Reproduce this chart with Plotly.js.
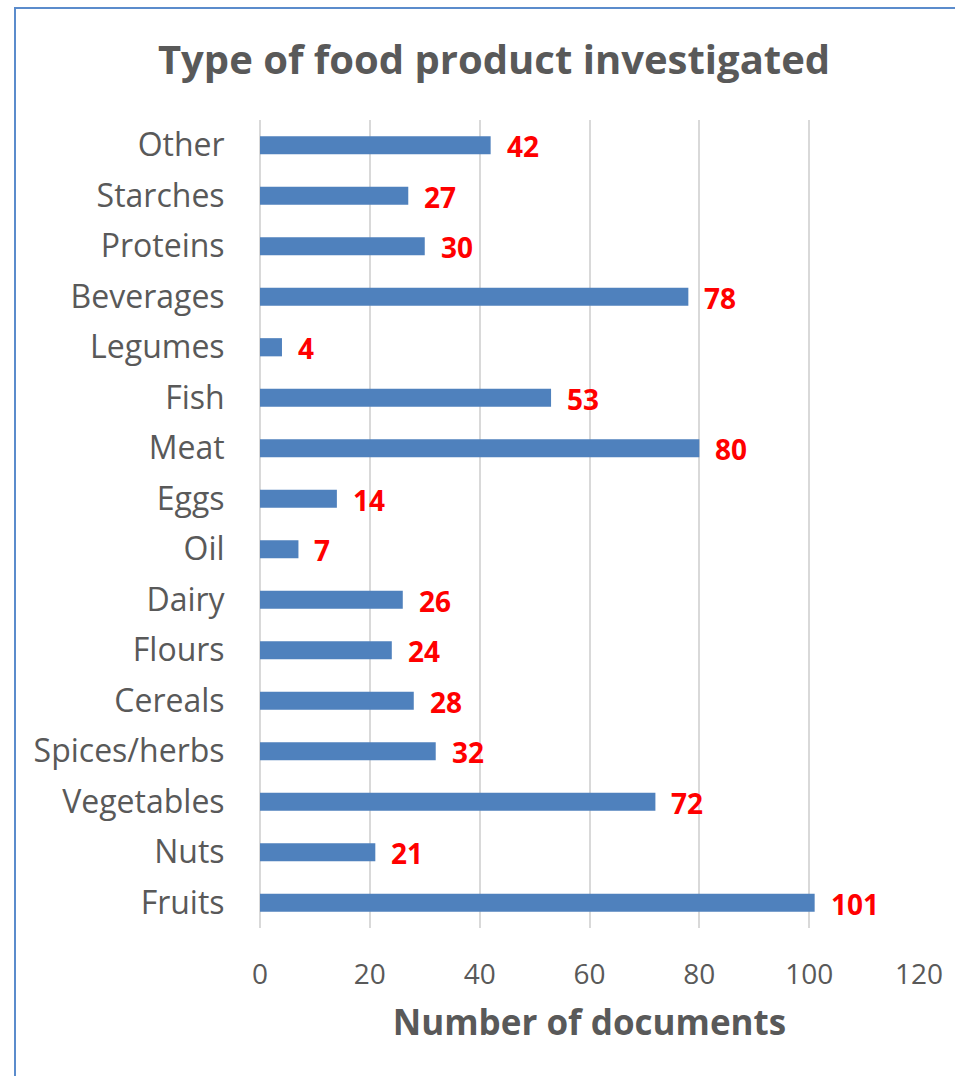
<!DOCTYPE html>
<html><head><meta charset="utf-8">
<script src="https://cdn.plot.ly/plotly-3.0.1.min.js"></script>
<style>html,body{margin:0;padding:0;background:#fff}#c{width:955px;height:1076px}</style>
</head><body><div id="c"></div>
<script>
const categories = ["Fruits","Nuts","Vegetables","Spices/herbs","Cereals","Flours","Dairy","Oil","Eggs","Meat","Fish","Legumes","Beverages","Proteins","Starches","Other"];
const values = [101,21,72,32,28,24,26,7,14,80,53,4,78,30,27,42];
const xTicks = [0,20,40,60,80,100,120];

const W=955,H=1076,ml=260,mr=36,mt=120,mb=148;
const pw=W-ml-mr, ph=H-mt-mb;
const px=x=>(x-ml)/pw, py=y=>(H-mb-y)/ph;
const font="Open Sans, sans-serif";

const annotations = categories.map((c,i)=>({
  x: values[i], y: c, xref:'x', yref:'y', text: String(values[i]),
  showarrow:false, xanchor:'left', yanchor:'middle', xshift:14, yshift:-1,
  font:{family:font, size:28, color:'#ff0000', weight:'bold'}
}));

const trace = {type:'bar', orientation:'h', x: values, y: categories,
  marker:{color:'#4f81bd'}, width:0.36, hoverinfo:'none'};

const layout = {
  width:W, height:H, margin:{l:ml,r:mr,t:mt,b:mb},
  paper_bgcolor:'#fff', plot_bgcolor:'#fff', showlegend:false,
  title:{text:'<b>Type of food product investigated</b>', xref:'container', x:494/W, xanchor:'center', yref:'container', y:1-60/H, yanchor:'middle',
    font:{family:font, size:40, color:'#595959'}},
  xaxis:{range:[0,120], tickvals:xTicks, ticktext:xTicks.map(String), showgrid:true, gridcolor:'#d9d9d9', gridwidth:2,
    zeroline:true, zerolinecolor:'#d9d9d9', zerolinewidth:2, showline:false,
    ticks:'outside', ticklen:21, tickcolor:'rgba(0,0,0,0)',
    tickfont:{family:font, size:28, color:'#595959'},
    title:{text:'<b>Number of documents</b>', standoff:19, font:{family:font, size:35, color:'#595959'}}},
  yaxis:{type:'category', categoryorder:'array', categoryarray:categories, range:[-0.5,15.5],
    showgrid:false, zeroline:false, showline:false,
    ticks:'outside', ticklen:28, tickcolor:'rgba(0,0,0,0)',
    tickfont:{family:font, size:32, color:'#595959'}},
  annotations: annotations,
  shapes:[
    {type:'line', xref:'paper', yref:'paper', x0:px(15), x1:px(15), y0:py(8), y1:py(1076), line:{color:'#5b8ccc', width:2}},
    {type:'line', xref:'paper', yref:'paper', x0:px(14), x1:px(955), y0:py(8), y1:py(8), line:{color:'#5b8ccc', width:2}}
  ]
};
Plotly.newPlot('c',[trace],layout,{staticPlot:true});
</script></body></html>
